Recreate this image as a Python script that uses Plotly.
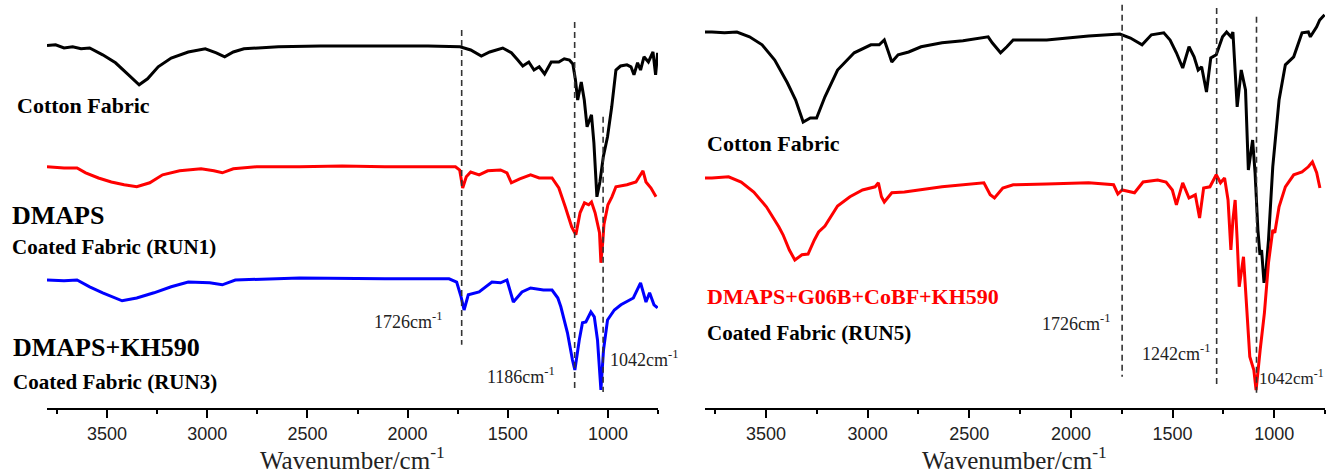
import plotly.graph_objects as go

# ---------------- data (wavenumber cm-1, relative transmittance a.u.) ----------------
# Left panel
wn_left_cotton = [3800,3757,3715,3672,3630,3587,3522,3458,3393,3340,3298,3245,3180,3095,3010,2955,2913,2870,2817,2645,
                  2435,2110,1898,1738,1685,1632,1590,1525,1482,1450,1425,1395,1369,1343,1316,1283,1245,1218,1192,1175,
                  1162,1151,1133,1118,1104,1082,1070,1055,1040,1023,1002,981,960,937,905,885,870,852,837,820,
                  798,775,762,752]
t_left_cotton = [90.6,90.8,90.0,90.3,89.8,90.0,88.3,86.3,83.3,80.8,82.3,85.3,87.5,89.0,89.8,88.8,87.8,89.0,89.8,90.3,
                 90.5,90.5,90.5,90.3,89.5,88.0,89.0,90.0,88.8,87.0,85.5,86.5,84.5,85.3,83.5,86.5,86.5,87.3,87.0,86.0,
                 82.0,77.0,81.5,77.0,70.3,73.3,66.3,52.8,56.5,62.8,67.8,75.3,84.5,85.5,85.8,85.3,83.3,86.3,84.5,87.8,
                 86.5,89.0,83.3,88.8]

wn_left_run1 = [3800,3715,3650,3607,3543,3479,3415,3352,3287,3223,3138,3031,2967,2925,2870,2754,2540,2327,2113,1900,
                1761,1740,1725,1707,1685,1643,1600,1536,1504,1482,1440,1386,1343,1279,1245,1213,1181,1160,1139,1117,
                1096,1082,1064,1042,1035,1025,1020,1000,980,960,905,860,840,825,810,785,760]
t_left_run1 = [60.3,60.0,60.0,58.8,57.5,56.5,55.8,55.3,56.3,58.3,59.3,59.8,59.3,58.8,59.8,60.3,60.3,60.5,60.3,60.3,
               60.3,59.5,55.0,57.8,59.0,58.3,59.3,59.5,58.8,56.3,57.3,58.3,57.5,57.5,55.0,50.3,45.3,43.3,48.8,51.3,
               50.8,51.5,48.8,43.8,36.3,42.0,45.8,50.8,52.8,55.3,55.8,56.5,58.3,59.3,56.5,55.0,52.8]

wn_left_run3 = [3800,3715,3650,3587,3522,3425,3352,3266,3180,3095,2988,2925,2860,2540,2113,1793,1755,1733,1718,1697,
                1643,1579,1536,1504,1472,1429,1386,1322,1279,1250,1235,1202,1177,1165,1143,1127,1110,1085,1068,1052,
                1035,1022,1002,968,935,916,873,837,810,792,770,752]
t_left_run3 = [32.0,31.8,32.0,30.3,28.8,26.8,27.5,28.8,30.3,31.5,31.3,30.8,32.0,32.5,32.3,32.3,31.5,27.8,24.5,28.3,
               29.0,31.5,31.3,32.0,26.5,29.0,30.0,29.5,29.5,27.5,25.3,18.8,12.0,9.5,17.0,21.3,21.5,24.0,22.8,17.0,
               4.5,14.5,22.0,24.5,25.8,26.3,27.5,31.3,26.5,28.8,25.8,25.0]

# Right panel
wn_right_cotton = [3800,3766,3704,3643,3581,3519,3457,3395,3354,3317,3282,3251,3210,3148,3066,2984,2943,2918,2901,2881,
                   2850,2798,2737,2634,2531,2407,2387,2346,2315,2284,2119,1913,1759,1707,1650,1604,1543,1512,1481,1450,
                   1419,1394,1374,1357,1333,1312,1285,1254,1234,1213,1203,1182,1162,1141,1127,1106,1094,1080,1070,1062,
                   1050,1040,1028,1007,976,945,904,863,832,822,791,776,752]
t_right_cotton = [94.0,94.0,93.8,94.0,92.8,90.8,87.0,81.3,77.0,71.5,72.5,72.5,77.8,84.5,88.8,90.8,90.8,92.0,89.5,86.5,
                  88.3,89.0,90.3,91.3,91.8,92.8,91.3,88.8,90.3,92.0,92.0,93.0,93.5,92.5,90.8,93.3,93.8,92.0,88.8,85.0,
                  90.3,87.8,84.5,85.3,79.0,87.5,88.3,92.8,94.0,92.8,94.0,75.3,84.5,79.5,59.5,67.0,58.8,44.5,38.3,39.5,
                  31.3,34.5,42.0,60.3,77.0,85.8,87.8,93.8,94.0,92.8,95.3,97.0,98.3]

wn_right_run5 = [3800,3766,3684,3622,3560,3498,3437,3416,3385,3358,3323,3293,3262,3241,3210,3148,3087,3025,2963,2947,
                 2932,2918,2881,2819,2634,2428,2397,2376,2335,2284,2119,1913,1790,1769,1748,1687,1645,1573,1532,1501,
                 1481,1450,1419,1388,1367,1347,1316,1285,1264,1244,1227,1213,1203,1192,1182,1172,1151,1120,1100,1089,
                 1069,1048,1028,1007,997,976,945,904,863,832,812,791,775]
t_right_run5 = [57.5,57.5,57.8,56.5,54.0,50.3,45.3,43.3,39.5,37.0,38.3,38.5,42.0,44.0,45.5,50.5,52.8,54.5,55.3,56.3,
                52.8,51.5,53.8,54.0,55.3,56.3,53.3,52.5,55.0,55.8,56.0,56.3,55.8,53.5,54.5,53.8,56.5,57.0,56.5,54.5,
                50.8,56.3,52.5,53.3,47.5,55.0,55.3,58.3,56.3,57.5,52.0,39.5,47.0,52.0,42.0,30.3,37.8,12.8,9.5,4.5,
                14.5,23.8,36.3,44.5,43.8,50.3,55.3,58.3,59.0,60.3,61.5,58.8,55.0]

# Dashed marker lines: position, top, bottom
left_lines_wn = [1730, 1166, 1024]
left_lines_top = [94.5, 96.5, 72.8]
left_lines_bottom = [15.8, 4.5, 4.0]
right_lines_wn = [1748, 1283, 1087]
right_lines_top = [100.8, 100.0, 97.8]
right_lines_bottom = [7.8, 5.0, 3.3]

tick_vals = [3500, 3000, 2500, 2000, 1500, 1000]
tick_text = ["3500", "3000", "2500", "2000", "1500", "1000"]

# ---------------- layout helpers ----------------
W, H = 1328, 476
PLOT_BOTTOM = 408  # pixel of x-axis line


def px(x):
    return x / W


def py(y):
    return (PLOT_BOTTOM - y) / PLOT_BOTTOM


SERIF = "Liberation Serif"
SANS = "Liberation Sans"

fig = go.Figure()

line_w = 3
fig.add_trace(go.Scatter(x=wn_left_cotton, y=t_left_cotton, mode="lines",
                         line=dict(color="#000000", width=line_w), xaxis="x", yaxis="y"))
fig.add_trace(go.Scatter(x=wn_left_run1, y=t_left_run1, mode="lines",
                         line=dict(color="#ff0000", width=line_w), xaxis="x", yaxis="y"))
fig.add_trace(go.Scatter(x=wn_left_run3, y=t_left_run3, mode="lines",
                         line=dict(color="#0000ff", width=line_w), xaxis="x", yaxis="y"))
fig.add_trace(go.Scatter(x=wn_right_cotton, y=t_right_cotton, mode="lines",
                         line=dict(color="#000000", width=line_w), xaxis="x2", yaxis="y2"))
fig.add_trace(go.Scatter(x=wn_right_run5, y=t_right_run5, mode="lines",
                         line=dict(color="#ff0000", width=line_w), xaxis="x2", yaxis="y2"))

for wn, t0, t1 in zip(left_lines_wn, left_lines_top, left_lines_bottom):
    fig.add_trace(go.Scatter(x=[wn, wn], y=[t0, t1], mode="lines",
                             line=dict(color="#333333", width=1.6, dash="6px,4px"),
                             xaxis="x", yaxis="y"))
for wn, t0, t1 in zip(right_lines_wn, right_lines_top, right_lines_bottom):
    fig.add_trace(go.Scatter(x=[wn, wn], y=[t0, t1], mode="lines",
                             line=dict(color="#333333", width=1.6, dash="6px,4px"),
                             xaxis="x2", yaxis="y2"))

xaxis_common = dict(
    range=[3800, 750], showgrid=False, zeroline=False,
    showline=True, linecolor="#000000", linewidth=2,
    ticks="outside", ticklen=8, tickwidth=2, tickcolor="#000000",
    tickvals=tick_vals, ticktext=tick_text,
    tickfont=dict(family=SANS, size=18, color="#222222"),
    minor=dict(ticks="outside", ticklen=4, tickwidth=2, tickcolor="#000000",
               tickvals=[3750, 3250, 2750, 2250, 1750, 1250, 750]),
    fixedrange=True,
)
yaxis_common = dict(range=[0, 102], visible=False, showgrid=False, zeroline=False, fixedrange=True)

fig.update_layout(
    width=W, height=H,
    margin=dict(l=0, r=0, t=0, b=H - PLOT_BOTTOM, pad=0),
    paper_bgcolor="white", plot_bgcolor="white",
    showlegend=False,
    xaxis=dict(domain=[px(47), px(658)], anchor="y", **xaxis_common),
    yaxis=dict(domain=[0, 1], anchor="x", **yaxis_common),
    xaxis2=dict(domain=[px(705), px(1325)], anchor="y2", **xaxis_common),
    yaxis2=dict(domain=[0, 1], anchor="x2", **yaxis_common),
)

annos = [
    # left panel
    ("<b>Cotton Fabric</b>", 15, 106, 22, "#000000"),
    ("<b>DMAPS</b>", 10, 215, 26, "#000000"),
    ("<b>Coated Fabric (RUN1)</b>", 10, 247, 21, "#000000"),
    ("<b>DMAPS+KH590</b>", 11, 347, 26, "#000000"),
    ("<b>Coated Fabric (RUN3)</b>", 11, 382, 21, "#000000"),
    ("1726cm<sup>-1</sup>", 372, 320, 18, "#222222"),
    ("1186cm<sup>-1</sup>", 485, 375, 18, "#222222"),
    ("1042cm<sup>-1</sup>", 608, 358, 18, "#222222"),
    # right panel
    ("<b>Cotton Fabric</b>", 705, 143, 22, "#000000"),
    ("<b>DMAPS+G06B+CoBF+KH590</b>", 705, 296, 22, "#ff0000"),
    ("<b>Coated Fabric (RUN5)</b>", 705, 333, 21, "#000000"),
    ("1726cm<sup>-1</sup>", 1040, 322, 18, "#222222"),
    ("1242cm<sup>-1</sup>", 1140, 352, 18, "#222222"),
    ("1042cm<sup>-1</sup>", 1257, 377, 17, "#222222"),
]
for text, x, y, size, color in annos:
    fig.add_annotation(text=text, xref="paper", yref="paper", x=px(x), y=py(y),
                       xanchor="left", yanchor="middle", showarrow=False,
                       font=dict(family=SERIF, size=size, color=color))

# axis titles
for cx in (352.5, 1015):
    fig.add_annotation(text="Wavenumber/cm<sup>-1</sup>", xref="paper", yref="paper",
                       x=px(cx), y=py(458), xanchor="center", yanchor="middle", showarrow=False,
                       font=dict(family=SERIF, size=25, color="#222222"))

fig.write_html("out.html")
